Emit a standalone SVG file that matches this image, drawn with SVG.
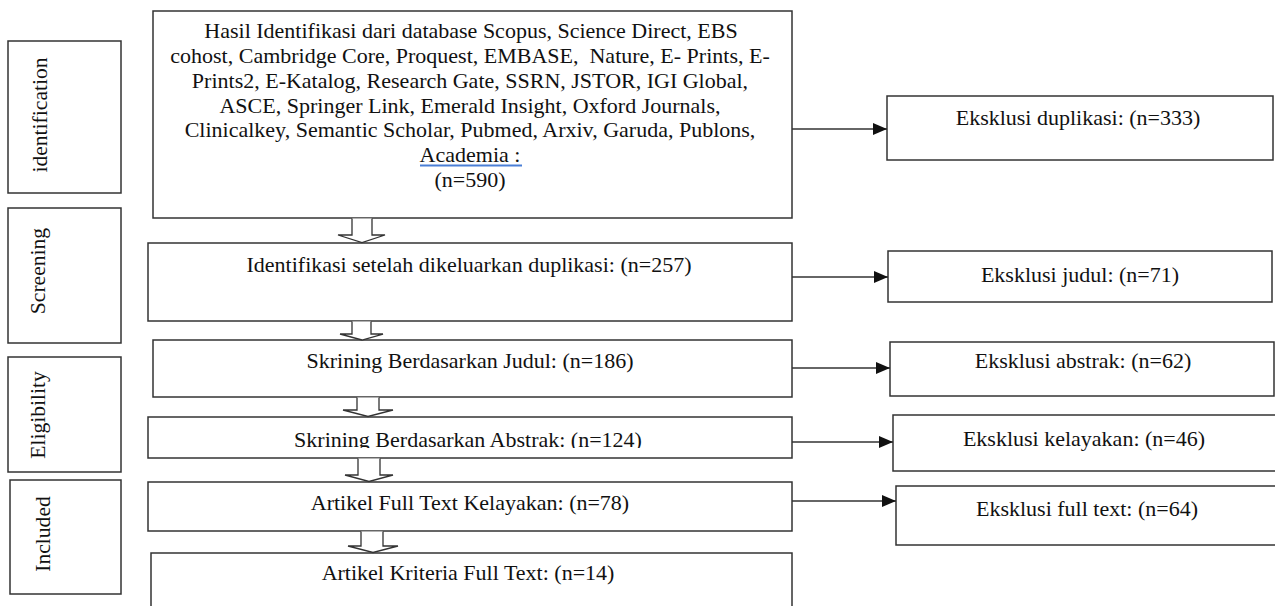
<svg xmlns="http://www.w3.org/2000/svg" width="1275" height="606" viewBox="0 0 1275 606">
<style>
.box{fill:#fff;stroke:#333;stroke-width:1.5}
.t{font-family:"Liberation Serif","Times New Roman",serif;font-size:22px;fill:#111;text-anchor:middle}
.lbl{font-family:"Liberation Serif","Times New Roman",serif;font-size:21.6px;fill:#111;text-anchor:middle}
.conn{stroke:#333;stroke-width:1.5;fill:none}
.blk{stroke:#333;stroke-width:1.3;fill:#fff;stroke-linejoin:miter}
</style>
<defs>
<marker id="ah" markerWidth="15" markerHeight="12" refX="14" refY="6" orient="auto" markerUnits="userSpaceOnUse">
<path d="M0,0 L14,6 L0,12 Z" fill="#111"/>
</marker>
<clipPath id="clipAbs"><rect x="148" y="417" width="644" height="31"/></clipPath>
</defs>
<rect width="1275" height="606" fill="#fff"/>

<g id="phase-identification">
<rect class="box" x="8" y="41" width="113" height="152"/>
<text class="lbl" transform="translate(47,115) rotate(-90)">identification</text>
</g>
<g id="phase-screening">
<rect class="box" x="8" y="208" width="113" height="135"/>
<text class="lbl" transform="translate(45,271) rotate(-90)">Screening</text>
</g>
<g id="phase-eligibility">
<rect class="box" x="8" y="357" width="113" height="115"/>
<text class="lbl" transform="translate(45,415) rotate(-90)">Eligibility</text>
</g>
<g id="phase-included">
<rect class="box" x="10" y="480" width="111" height="114"/>
<text class="lbl" transform="translate(50,534) rotate(-90)">Included</text>
</g>

<g id="identified">
<rect class="box" x="153" y="11" width="639" height="207"/>
<text class="t" x="471" y="38">Hasil Identifikasi dari database Scopus, Science Direct, EBS</text>
<text class="t" x="470" y="63" xml:space="preserve">cohost, Cambridge Core, Proquest, EMBASE,  Nature, E- Prints, E-</text>
<text class="t" x="470" y="88">Prints2, E-Katalog, Research Gate, SSRN, JSTOR, IGI Global,</text>
<text class="t" x="470" y="113">ASCE, Springer Link, Emerald Insight, Oxford Journals,</text>
<text class="t" x="470" y="137">Clinicalkey, Semantic Scholar, Pubmed, Arxiv, Garuda, Publons,</text>
<text class="t" x="470" y="162">Academia :</text>
<path d="M420,165.5 L522,165.5" stroke="#4a7fd6" stroke-width="2" fill="none"/>
<text class="t" x="470" y="187">(n=590)</text>
</g>

<g id="after-dedup">
<rect class="box" x="148" y="243" width="644" height="78"/>
<text class="t" x="469" y="272">Identifikasi setelah dikeluarkan duplikasi: (n=257)</text>
</g>
<g id="title-screen">
<rect class="box" x="153" y="340" width="639" height="57"/>
<text class="t" x="470" y="368">Skrining Berdasarkan Judul: (n=186)</text>
</g>
<g id="abstract-screen">
<rect class="box" x="148" y="417" width="644" height="41"/>
<text class="t" x="468" y="447" clip-path="url(#clipAbs)">Skrining Berdasarkan Abstrak: (n=124)</text>
</g>
<g id="fulltext">
<rect class="box" x="148" y="482" width="644" height="49"/>
<text class="t" x="470" y="510">Artikel Full Text Kelayakan: (n=78)</text>
</g>
<g id="included">
<rect class="box" x="151" y="553" width="641" height="55"/>
<text class="t" x="468" y="580">Artikel Kriteria Full Text: (n=14)</text>
</g>

<g id="excl-dup">
<rect class="box" x="887" y="96" width="386" height="64"/>
<text class="t" x="1078" y="125">Eksklusi duplikasi: (n=333)</text>
</g>
<g id="excl-title">
<rect class="box" x="888" y="251" width="384" height="51"/>
<text class="t" x="1080" y="282">Eksklusi judul: (n=71)</text>
</g>
<g id="excl-abstract">
<rect class="box" x="890" y="342" width="384" height="54"/>
<text class="t" x="1083" y="368">Eksklusi abstrak: (n=62)</text>
</g>
<g id="excl-eligibility">
<rect class="box" x="893" y="415" width="384" height="56"/>
<text class="t" x="1084" y="446">Eksklusi kelayakan: (n=46)</text>
</g>
<g id="excl-fulltext">
<rect class="box" x="896" y="486" width="381" height="59"/>
<text class="t" x="1087" y="516">Eksklusi full text: (n=64)</text>
</g>

<g id="connectors">
<line class="conn" x1="792" y1="129" x2="887" y2="129" marker-end="url(#ah)"/>
<line class="conn" x1="792" y1="277" x2="888" y2="277" marker-end="url(#ah)"/>
<line class="conn" x1="792" y1="368" x2="890" y2="368" marker-end="url(#ah)"/>
<line class="conn" x1="792" y1="442" x2="893" y2="442" marker-end="url(#ah)"/>
<line class="conn" x1="792" y1="501" x2="896" y2="501" marker-end="url(#ah)"/>
<path class="blk" d="M352,218.5 L352,235 L338,235 L362,242.5 L385,235 L372,235 L372,218.5"/>
<path class="blk" d="M352,321.5 L352,334 L340,334 L362,340 L383,334 L371,334 L371,321.5"/>
<path class="blk" d="M357,397.5 L357,410 L343,410 L368,416.5 L393,410 L379,410 L379,397.5"/>
<path class="blk" d="M358,458.5 L358,475 L345,475 L369,481.5 L393,475 L380,475 L380,458.5"/>
<path class="blk" d="M361,531.5 L361,546 L348,546 L373,552.5 L398,546 L383,546 L383,531.5"/>
</g>
</svg>
